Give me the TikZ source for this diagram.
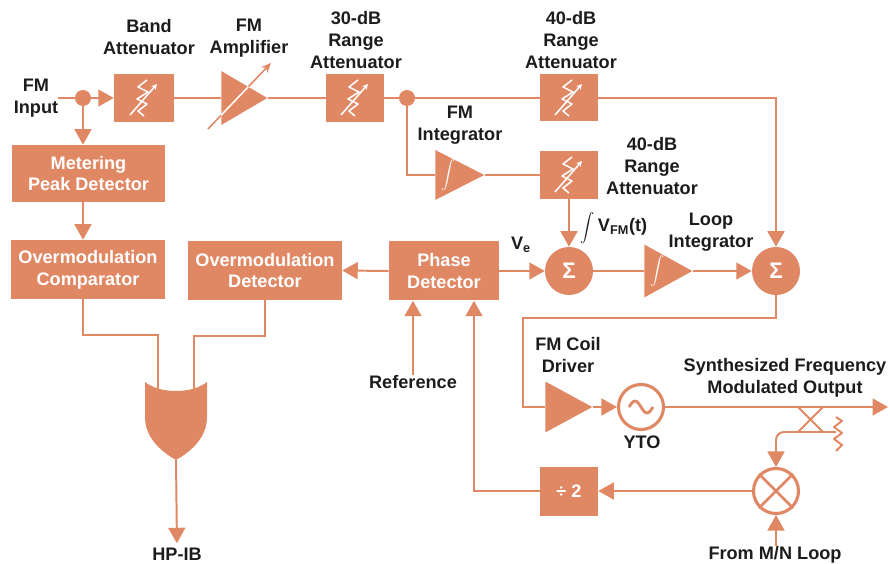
\documentclass[tikz,border=0pt]{standalone}
\usepackage{fontspec}
\setmainfont{Liberation Sans}
\usetikzlibrary{arrows.meta,shapes.geometric,calc}
\definecolor{hp}{RGB}{224,135,100}
\definecolor{ink}{RGB}{28,28,28}
\newcommand{\px}{0.025cm}
\newcommand{\lblfont}{\fontsize{12.9pt}{15.6pt}\selectfont\bfseries}
\newcommand{\sumfont}{\fontsize{16pt}{16pt}\selectfont\bfseries}
% attenuator mark: zigzag with a diagonal arrow
\newcommand{\attsym}[1]{%
 \draw[white, line width=1.1pt, line join=round] ([shift={(3,-18)}]#1.center) -- ++(-9,7) -- ++(10,5) -- ++(-11,7) -- ++(10,5) -- ++(-9,7) -- ++(6,5);
 \draw[white, line width=1.1pt, -{Stealth[length=4pt,width=4pt]}] ([shift={(-14,17)}]#1.center) -- ([shift={(13,-14)}]#1.center);}
\begin{document}
\begin{tikzpicture}[x=0.025cm, y=-0.025cm,
 wire/.style={draw=hp, line width=1.4pt},
 arr/.style={wire, -{Triangle[length=11pt,width=12pt]}},
 blk/.style={rectangle, fill=hp, text=white, font=\lblfont, align=center, inner sep=0pt},
 tri/.style={isosceles triangle, isosceles triangle stretches, fill=hp, inner sep=0pt},
 dot/.style={circle, fill=hp, minimum size=16*\px, inner sep=0pt},
 sum/.style={circle, fill=hp, text=white, font=\sumfont, minimum size=48*\px, inner sep=0pt},
 ring/.style={circle, draw=hp, fill=white, line width=2.2pt, minimum size=45*\px, inner sep=0pt},
 lbl/.style={text=ink, font=\lblfont, align=center, inner sep=0pt}]
 \useasboundingbox (0,0) rectangle (890,564);

 % top row
 \node[lbl] (inp) at (36,98) {FM\\Input};
 \node[dot] (dot1) at (83,98) {};
 \node[blk, minimum width=60*\px, minimum height=48*\px] (band) at (144,98) {};
 \node[tri, minimum height=46*\px, minimum width=54*\px, anchor=apex] (amp) at (268,98) {};
 \node[blk, minimum width=58*\px, minimum height=48*\px] (att30) at (355,98) {};
 \node[dot] (dot2) at (407,98) {};
 \node[blk, minimum width=58*\px, minimum height=47*\px] (att40a) at (569,98) {};
 \node[tri, minimum height=49*\px, minimum width=50*\px, anchor=apex] (fmint) at (485,175) {};
 \node[blk, minimum width=58*\px, minimum height=48*\px] (att40b) at (569,175) {};
 \attsym{band} \attsym{att30} \attsym{att40a} \attsym{att40b}

 \node[lbl] at (149,37) {Band\\Attenuator};
 \node[lbl] at (249,38) {FM\\Amplifier};
 \node[lbl] at (356,40) {30-dB\\Range\\Attenuator};
 \node[lbl] at (571,40) {40-dB\\Range\\Attenuator};
 \node[lbl] at (460,125) {FM\\Integrator};
 \node[lbl] at (652,166) {40-dB\\Range\\Attenuator};

 % middle row
 \node[blk, minimum width=153*\px, minimum height=57*\px] (meter) at (88.5,173.5) {Metering\\Peak Detector};
 \node[blk, minimum width=154*\px, minimum height=59*\px] (cmp) at (88,269.5) {Overmodulation\\Comparator};
 \node[blk, minimum width=154*\px, minimum height=59*\px] (ovd) at (265,270.5) {Overmodulation\\Detector};
 \node[blk, minimum width=110*\px, minimum height=59*\px] (phase) at (444,271) {Phase\\Detector};
 \node[sum] (sum1) at (569,271) {Σ};
 \node[tri, minimum height=48*\px, minimum width=53*\px, anchor=apex] (loop) at (693,271) {};
 \node[sum] (sum2) at (776,271) {Σ};
 \node[lbl] at (521,245) {V\textsubscript{e}};
 \node[lbl] at (614,228) {{\fontsize{9pt}{9pt}\selectfont$\displaystyle\int$}\,V\textsubscript{FM}(t)};
 \node[lbl] at (711,232) {Loop\\Integrator};
 \node[lbl] (ref) at (413,382) {Reference};

 % lower right
 \node[tri, minimum height=47*\px, minimum width=51*\px, anchor=apex] (coil) at (593,407) {};
 \node[ring] (yto) at (641,407) {};
 \node[ring] (mix) at (776,491) {};
 \node[blk, minimum width=58*\px, minimum height=49*\px] (div) at (569,491) {÷ 2};
 \coordinate (out) at (888,407);
 \coordinate (bend) at (523,318);
 \node[lbl] at (568,355) {FM Coil\\Driver};
 \node[lbl] at (642,442) {YTO};
 \node[lbl] at (785,378) {Synthesized Frequency\\Modulated Output};
 \node[lbl] (from) at (775,555) {From M/N Loop};
 \node[lbl] (hpib) at (177,554) {HP-IB};

 % integrator marks
 \foreach \t in {fmint, loop}
  \node[text=white, font=\fontsize{11pt}{11pt}\selectfont] at ($(\t.west)+(14,0)$) {$\displaystyle\int$};

 % connections
 \draw[wire] (inp.east |- dot1) -- (dot1);
 \draw[arr] (dot1) -- (band.west);
 \draw[arr] (dot1) -- (dot1 |- meter.north);
 \draw[wire] (band.east) -- (amp.west);
 \draw[wire] (amp.apex) -- (att30.west);
 \draw[wire] (att30.east) -- (dot2);
 \draw[wire] (dot2) -- (att40a.west);
 \draw[arr] (att40a.east) -| (sum2.north);
 \draw[wire] (dot2) |- (fmint.west);
 \draw[wire] (fmint.apex) -- (att40b.west);
 \draw[arr] (att40b.south) -- (sum1.north);
 \draw[arr] (phase.east) -- (sum1.west);
 \draw[wire] (sum1.east) -- (loop.west);
 \draw[arr] (loop.apex) -- (sum2.west);
 \draw[arr] (phase.west) -- (ovd.east);
 \draw[arr] (meter.south -| dot1) -- (cmp.north -| dot1);
 \draw[wire] (sum2.south) |- (bend) |- (coil.west);
 \draw[arr] (coil.apex) -- (yto.west);
 \draw[arr] (yto.east) -- (out);
 \draw[arr] (mix.west) -- (div.east);
 \draw[arr] (div.west) -| ($(phase.south)+(30,0)$);
 \draw[arr] (ref.north) -- (ref.north |- phase.south);
 \draw[arr] (mix.south |- from.north) -- (mix.south);

 % variable gain arrow on the FM amplifier
 \draw[wire, line width=1.1pt, -{Stealth[length=7pt,width=6pt]}] (208,129) -- (271,63);
 \begin{scope}
  \clip (amp.apex) -- (amp.left corner) -- (amp.right corner) -- cycle;
  \draw[white, line width=1.1pt] (208,129) -- (271,63);
 \end{scope}

 % YTO and mixer marks
 \begin{scope}[shift={(yto.center)}]
  \draw[hp, line width=2pt] (-12,0) sin (-6,-6) cos (0,0) sin (6,6) cos (12,0);
 \end{scope}
 \draw[hp, line width=2pt] (mix.north east) -- (mix.south west) (mix.north west) -- (mix.south east);

 % coupler and termination
 \draw[wire] (798,407) -- (823,432) (823,407) -- (798,432);
 \draw[arr, rounded corners=8*\px] (836,432) -| (mix.north);
 \draw[wire, line join=round] (836,417) -- (842,421) -- (834,427) -- (842,433) -- (834,439) -- (842,445) -- (836,451);

 % OR gate
 \coordinate (or1) at (158,389);
 \coordinate (or2) at (194,389);
 \coordinate (orout) at (176,460);
 \draw[wire] (cmp.south -| dot1) -- ++(0,36) -| (or1);
 \draw[wire] (ovd.south) -- ++(0,36) -| (or2);
 \fill[hp] (145,382) .. controls (160,394) and (192,394) .. (207,382) -- (207,417)
  .. controls (207,437) and (192,451) .. (orout) .. controls (160,451) and (145,437) .. (145,417) -- cycle;
 \draw[arr, shorten >=3pt] (orout) -- (hpib.north);
\end{tikzpicture}
\end{document}
